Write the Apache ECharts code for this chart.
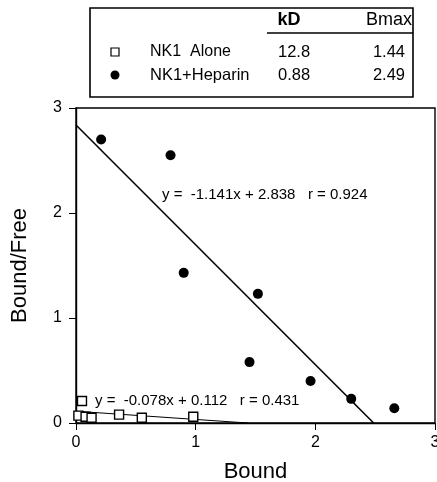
<!DOCTYPE html>
<html><head><meta charset="utf-8">
<script src="https://cdn.jsdelivr.net/npm/echarts@6/dist/echarts.min.js"></script>
<style>html,body{margin:0;padding:0;background:#fff}#c{width:437px;height:482px}</style>
</head><body><div id="c"></div>
<script>
// Data
var heparinX = [0.21, 0.79, 0.90, 1.52, 1.45, 1.96, 2.30, 2.66];
var heparinY = [2.70, 2.55, 1.43, 1.23, 0.58, 0.40, 0.23, 0.14];
var aloneX = [0.02, 0.05, 0.08, 0.13, 0.36, 0.55, 0.98];
var aloneY = [0.07, 0.21, 0.06, 0.05, 0.08, 0.05, 0.06];
var fitSlope = [-0.078, -1.141];       // NK1 alone, NK1+Heparin
var fitIntercept = [0.112, 2.838];
var fitR = [0.431, 0.924];
var tableNames = ['NK1  Alone', 'NK1+Heparin'];
var tableKD = ['12.8', '0.88'];
var tableBmax = ['1.44', '2.49'];
var axisTicks = [0, 1, 2, 3];

function zip(a, b) { return a.map(function (v, i) { return [v, b[i]]; }); }
function fitLine(i) {
  return [[0, fitIntercept[i]], [-fitIntercept[i] / fitSlope[i], 0]];
}
var F = 'Liberation Sans, Arial, Helvetica, sans-serif';
var chart = echarts.init(document.getElementById('c'));
var axisCommon = {
  min: 0, max: 3, interval: 1,
  axisLine: { show: true, lineStyle: { color: '#000', width: 1.4 } },
  axisTick: { show: true, length: 7, lineStyle: { color: '#000', width: 1 } },
  splitLine: { show: false },
  axisLabel: { color: '#000', fontSize: 16, fontFamily: F },
  nameTextStyle: { color: '#000', fontSize: 22, fontFamily: F }
};
chart.setOption({
  animation: false,
  backgroundColor: '#fff',
  grid: { left: 76, top: 108, right: 2, bottom: 59, show: true, borderColor: '#000', borderWidth: 1.4, backgroundColor: 'transparent', outerBoundsMode: 'none', containLabel: false },
  xAxis: Object.assign({}, axisCommon, {
    type: 'value', name: 'Bound', nameLocation: 'middle', nameGap: 38,
    axisLabel: Object.assign({}, axisCommon.axisLabel, { margin: 12, formatter: function (v) { return axisTicks.indexOf(v) >= 0 ? String(v) : ''; } })
  }),
  yAxis: Object.assign({}, axisCommon, {
    type: 'value', name: 'Bound/Free', nameLocation: 'middle', nameGap: 45,
    axisLabel: Object.assign({}, axisCommon.axisLabel, { margin: 14 })
  }),
  series: [
    { type: 'line', data: fitLine(1), symbol: 'none', lineStyle: { color: '#000', width: 1.6 }, z: 2 },
    { type: 'line', data: fitLine(0), symbol: 'none', lineStyle: { color: '#000', width: 1.2 }, z: 2 },
    { type: 'scatter', data: zip(heparinX, heparinY), symbol: 'circle', symbolSize: 10, itemStyle: { color: '#000', opacity: 1 }, z: 3 },
    { type: 'scatter', data: zip(aloneX, aloneY), symbol: 'rect', symbolSize: 9, itemStyle: { color: '#fff', borderColor: '#000', borderWidth: 1.4, opacity: 1 }, z: 3 }
  ],
  graphic: [
    { type: 'rect', shape: { x: 90, y: 8, width: 323, height: 89 }, style: { fill: '#fff', stroke: '#000', lineWidth: 1.6 } },
    { type: 'text', x: 289, y: 20, style: { text: 'kD', font: 'bold 18px ' + F, fill: '#000', textAlign: 'center', textVerticalAlign: 'middle' } },
    { type: 'text', x: 412, y: 20, style: { text: 'Bmax', font: '18px ' + F, fill: '#000', textAlign: 'right', textVerticalAlign: 'middle' } },
    { type: 'line', shape: { x1: 267, y1: 33, x2: 413, y2: 33 }, style: { stroke: '#000', lineWidth: 1.6 } },
    { type: 'rect', shape: { x: 111, y: 48, width: 8, height: 8 }, style: { fill: '#fff', stroke: '#000', lineWidth: 1.2 } },
    { type: 'circle', shape: { cx: 115, cy: 75, r: 4.5 }, style: { fill: '#000' } },
    { type: 'text', x: 150, y: 52, style: { text: tableNames[0], font: '16px ' + F, fill: '#000', textVerticalAlign: 'middle' } },
    { type: 'text', x: 150, y: 75, style: { text: tableNames[1], font: '16.5px ' + F, fill: '#000', textVerticalAlign: 'middle' } },
    { type: 'text', x: 278, y: 52, style: { text: tableKD[0], font: '16.5px ' + F, fill: '#000', textVerticalAlign: 'middle' } },
    { type: 'text', x: 278, y: 75, style: { text: tableKD[1], font: '16.5px ' + F, fill: '#000', textVerticalAlign: 'middle' } },
    { type: 'text', x: 405, y: 52, style: { text: tableBmax[0], font: '16.5px ' + F, fill: '#000', textAlign: 'right', textVerticalAlign: 'middle' } },
    { type: 'text', x: 405, y: 75, style: { text: tableBmax[1], font: '16.5px ' + F, fill: '#000', textAlign: 'right', textVerticalAlign: 'middle' } },
    { type: 'text', x: 162, y: 195, style: { text: 'y =  ' + fitSlope[1].toFixed(3) + 'x + ' + fitIntercept[1].toFixed(3) + '   r = ' + fitR[1].toFixed(3), font: '15px ' + F, fill: '#000', textVerticalAlign: 'middle' } },
    { type: 'text', x: 95, y: 401, style: { text: 'y =  ' + fitSlope[0].toFixed(3) + 'x + ' + fitIntercept[0].toFixed(3) + '   r = ' + fitR[0].toFixed(3), font: '15px ' + F, fill: '#000', textVerticalAlign: 'middle' } }
  ]
});
</script></body></html>
